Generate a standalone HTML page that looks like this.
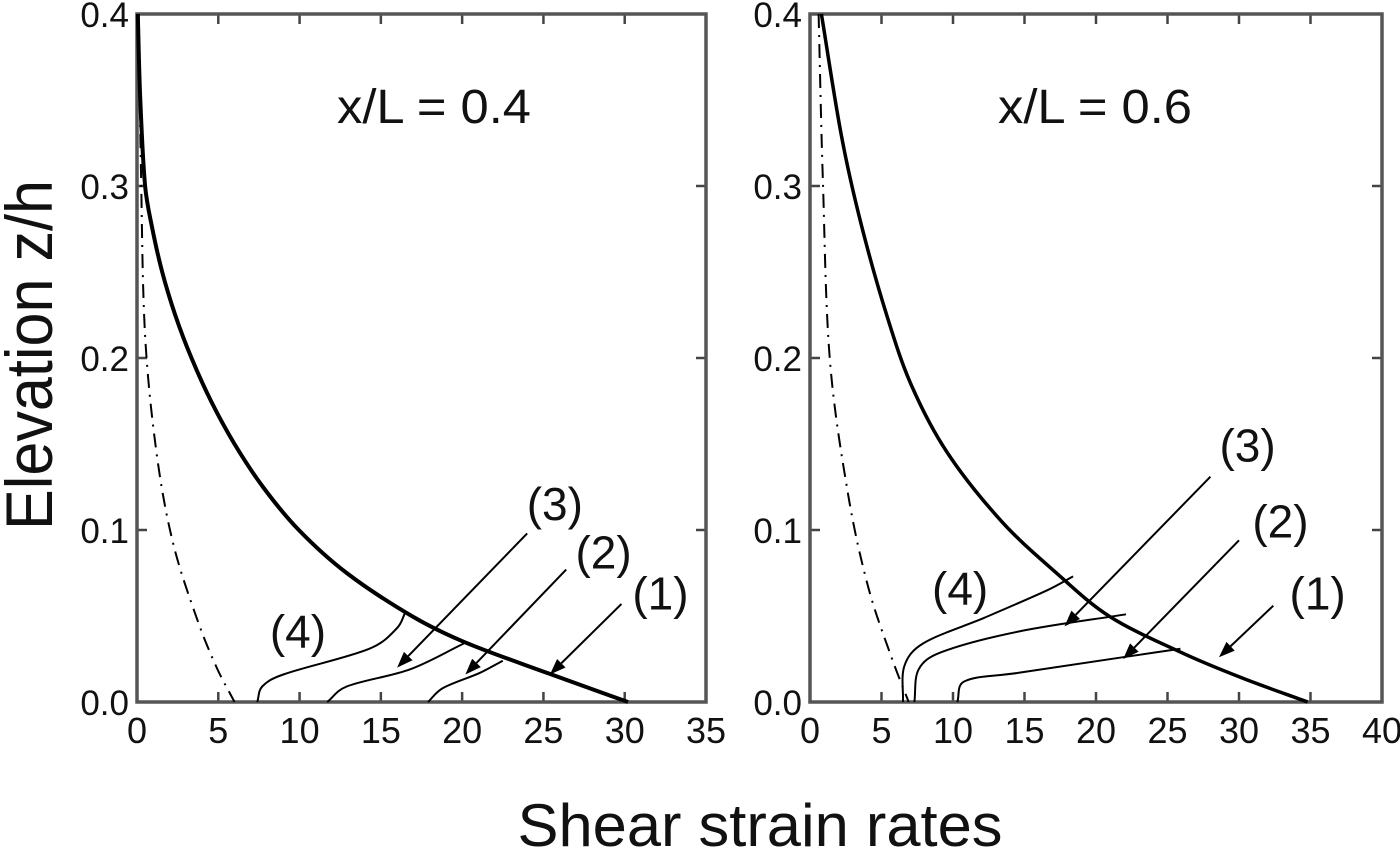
<!DOCTYPE html>
<html>
<head>
<meta charset="utf-8">
<style>
  html,body{margin:0;padding:0;background:#fff;}
  svg{display:block;font-family:"Liberation Sans",Arial,sans-serif;}
</style>
</head>
<body>
<svg id="chart" width="1400" height="850" viewBox="0 0 1400 850" xmlns="http://www.w3.org/2000/svg">
  <rect width="1400" height="850" fill="#fff"/>
  <text x="52" y="355" transform="rotate(-90 52 355)" text-anchor="middle" font-size="66" textLength="350" lengthAdjust="spacingAndGlyphs" fill="#111">Elevation z/h</text>
  <text x="760" y="846" text-anchor="middle" font-size="60" textLength="485" lengthAdjust="spacingAndGlyphs" fill="#111">Shear strain rates</text>
  <g id="panels"></g>
</svg>
<script>
// ---------- Data ----------
const yTicks = [0.0, 0.1, 0.2, 0.3, 0.4];
const leftXTicks = [0, 5, 10, 15, 20, 25, 30, 35];
const rightXTicks = [0, 5, 10, 15, 20, 25, 30, 35, 40];
const leftTitle = "x/L = 0.4";
const rightTitle = "x/L = 0.6";

// Left panel (x/L = 0.4)
const leftMainX = [0.05, 0.2, 0.5, 0.95, 1.55, 2.35, 3.35, 4.55, 6.0, 7.75, 9.95, 12.9, 16.9, 20.1, 25.2, 30.2];
const leftMainZ = [0.4, 0.35, 0.3, 0.275, 0.25, 0.225, 0.2, 0.175, 0.15, 0.125, 0.1, 0.075, 0.05, 0.035, 0.017, 0];
const leftDashX = [0.1, 0.25, 0.5, 1.2, 2.2, 3.7, 4.9, 6.0];
const leftDashZ = [0.4, 0.305, 0.213, 0.145, 0.093, 0.048, 0.020, 0];
const left4X = [7.4, 7.7, 9.0, 14.3, 16.0, 16.5];
const left4Z = [0, 0.009, 0.016, 0.031, 0.043, 0.052];
const left3X = [11.7, 12.9, 16.8, 20.1];
const left3Z = [0, 0.009, 0.019, 0.034];
const left2X = [17.9, 18.8, 21.1, 22.5];
const left2Z = [0, 0.008, 0.017, 0.024];

// Right panel (x/L = 0.6)
const rightMainX = [0.8, 2.2, 3.6, 5.4, 7.1, 9.6, 13.4, 17.1, 20.9, 25.9, 30.2, 34.8];
const rightMainZ = [0.4, 0.329, 0.277, 0.224, 0.184, 0.145, 0.105, 0.076, 0.050, 0.029, 0.014, 0];
const rightDashX = [0.6, 0.9, 1.4, 2.7, 4.1, 5.7, 6.9];
const rightDashZ = [0.4, 0.303, 0.198, 0.119, 0.066, 0.026, 0];
const right4X = [6.5, 6.6, 7.9, 12.2, 16.6, 18.4];
const right4Z = [0, 0.021, 0.034, 0.049, 0.065, 0.073];
const right3X = [7.3, 7.6, 9.2, 14.6, 22.1];
const right3Z = [0, 0.019, 0.029, 0.041, 0.051];
const right2X = [10.3, 10.8, 14.6, 25.9];
const right2Z = [0, 0.012, 0.017, 0.031];

// Annotations (data coords)
const leftLabels = ["(4)", "(3)", "(2)", "(1)"];
const leftLabelX = [9.9, 25.7, 28.7, 32.2];
const leftLabelZ = [0.041, 0.115, 0.087, 0.063];
const leftArrowStartX = [24.0, 26.4, 29.8];
const leftArrowStartZ = [0.098, 0.077, 0.057];
const leftArrowTipX = [16.0, 20.2, 25.4];
const leftArrowTipZ = [0.020, 0.016, 0.016];

const rightLabels = ["(4)", "(3)", "(2)", "(1)"];
const rightLabelX = [10.5, 30.6, 32.9, 35.5];
const rightLabelZ = [0.066, 0.149, 0.105, 0.063];
const rightArrowStartX = [28.0, 30.0, 32.4];
const rightArrowStartZ = [0.131, 0.094, 0.056];
const rightArrowTipX = [17.8, 21.9, 28.6];
const rightArrowTipZ = [0.044, 0.025, 0.026];

// ---------- Rendering ----------
const NS = "http://www.w3.org/2000/svg";
const root = document.getElementById("panels");
function mk(tag, attrs, parent) {
  const e = document.createElementNS(NS, tag);
  for (const k in attrs) e.setAttribute(k, attrs[k]);
  (parent || root).appendChild(e);
  return e;
}
function makeScales(x0px, x1px, xmax) {
  const Y0 = 702, Y1 = 14;
  return {
    sx: v => x0px + (v / xmax) * (x1px - x0px),
    sy: z => Y0 + (z / 0.4) * (Y1 - Y0),
    x0px, x1px, Y0, Y1
  };
}
function smoothPath(xs, zs, s) {
  const p = xs.map((x, i) => [s.sx(x), s.sy(zs[i])]);
  let d = "M" + p[0][0].toFixed(1) + "," + p[0][1].toFixed(1);
  const dist = (a, b) => Math.pow(Math.hypot(a[0] - b[0], a[1] - b[1]), 0.5) || 1e-6;
  for (let i = 0; i < p.length - 1; i++) {
    const p1 = p[i], p2 = p[i + 1];
    const p0 = p[i - 1] || [2 * p1[0] - p2[0], 2 * p1[1] - p2[1]];
    const p3 = p[i + 2] || [2 * p2[0] - p1[0], 2 * p2[1] - p1[1]];
    const d1 = dist(p0, p1), d2 = dist(p1, p2), d3 = dist(p2, p3);
    const c1 = [0, 1].map(k => p1[k] + (d2 / (d1 + d2)) * (p2[k] - p0[k]) / 3);
    const c2 = [0, 1].map(k => p2[k] - (d2 / (d2 + d3)) * (p3[k] - p1[k]) / 3);
    d += " C" + c1.map(v => v.toFixed(1)).join(",") + " " + c2.map(v => v.toFixed(1)).join(",") + " " + p2.map(v => v.toFixed(1)).join(",");
  }
  return d;
}
function drawPanel(name, s, xTicks, title, titleX, series, labels, lx, lz, asx, asz, atx, atz) {
  const g = mk("g", {});
  
  
  xTicks.forEach(t => {
    const x = s.sx(t);
    const tb = mk("line", {x1: x, y1: s.Y0, x2: x, y2: s.Y0 - 10, stroke: "#444", "stroke-width": 2.5}, g);
    
    
    const tt = mk("line", {x1: x, y1: s.Y1, x2: x, y2: s.Y1 + 10, stroke: "#444", "stroke-width": 2.5}, g);
    
    
    const lab = mk("text", {x: x, y: 743, "text-anchor": "middle", "font-size": 36, fill: "#111"}, g);
    lab.textContent = String(t);
    
    
  });
  yTicks.forEach(t => {
    const y = s.sy(t);
    const tl = mk("line", {x1: s.x0px, y1: y, x2: s.x0px + 10, y2: y, stroke: "#444", "stroke-width": 2.5}, g);
    
    
    const tr = mk("line", {x1: s.x1px, y1: y, x2: s.x1px - 10, y2: y, stroke: "#444", "stroke-width": 2.5}, g);
    
    
    const lab = mk("text", {x: s.x0px - 8, y: y + 13, "text-anchor": "end", "font-size": 35, fill: "#111"}, g);
    lab.textContent = t.toFixed(1);
    
    
  });
  const fr = mk("rect", {x: s.x0px, y: s.Y1, width: s.x1px - s.x0px, height: s.Y0 - s.Y1, fill: "none", stroke: "#555", "stroke-width": 3.5}, g);
  
  
  const ti = mk("text", {x: titleX, y: 123, "text-anchor": "middle", "font-size": 48, textLength: 194, lengthAdjust: "spacingAndGlyphs", fill: "#111"}, g);
  ti.textContent = title;
  
  
  series.forEach(se => {
    const p = mk("path", {d: smoothPath(se.x, se.z, s), fill: "none", stroke: "#000", "stroke-width": se.w, "stroke-dasharray": se.dash || "none", "stroke-linejoin": "round"}, g);
    
    
  });
  labels.forEach((t, i) => {
    const l = mk("text", {x: s.sx(lx[i]), y: s.sy(lz[i]) + 16, "text-anchor": "middle", "font-size": 46, fill: "#111"}, g);
    l.textContent = t;
    
    
  });
  asx.forEach((v, i) => {
    const x1 = s.sx(v), y1 = s.sy(asz[i]), x2 = s.sx(atx[i]), y2 = s.sy(atz[i]);
    const ang = Math.atan2(y2 - y1, x2 - x1), L = 16, W = 6;
    const bx = x2 - L * Math.cos(ang), by = y2 - L * Math.sin(ang);
    const a = mk("line", {x1: x1, y1: y1, x2: bx, y2: by, stroke: "#000", "stroke-width": 2}, g);
    
    
    const pts = [[x2, y2], [bx + W * Math.sin(ang), by - W * Math.cos(ang)], [bx - W * Math.sin(ang), by + W * Math.cos(ang)]];
    const h = mk("polygon", {points: pts.map(q => q.join(",")).join(" "), fill: "#000"}, g);
    
    
  });
}
const sL = makeScales(137, 706, 35);
drawPanel("left-panel", sL, leftXTicks, leftTitle, 434, [
  {name: "curve-1-main", x: leftMainX, z: leftMainZ, w: 4},
  {name: "dash-dot-curve", x: leftDashX, z: leftDashZ, w: 2, dash: "14 7 2 7"},
  {name: "curve-4", x: left4X, z: left4Z, w: 2},
  {name: "curve-3", x: left3X, z: left3Z, w: 2},
  {name: "curve-2", x: left2X, z: left2Z, w: 2}
], leftLabels, leftLabelX, leftLabelZ, leftArrowStartX, leftArrowStartZ, leftArrowTipX, leftArrowTipZ);

const sR = makeScales(810, 1382, 40);
drawPanel("right-panel", sR, rightXTicks, rightTitle, 1095, [
  {name: "curve-1-main", x: rightMainX, z: rightMainZ, w: 3.5},
  {name: "dash-dot-curve", x: rightDashX, z: rightDashZ, w: 2, dash: "14 7 2 7"},
  {name: "curve-4", x: right4X, z: right4Z, w: 2},
  {name: "curve-3", x: right3X, z: right3Z, w: 2},
  {name: "curve-2", x: right2X, z: right2Z, w: 2}
], rightLabels, rightLabelX, rightLabelZ, rightArrowStartX, rightArrowStartZ, rightArrowTipX, rightArrowTipZ);
</script>
</body>
</html>
